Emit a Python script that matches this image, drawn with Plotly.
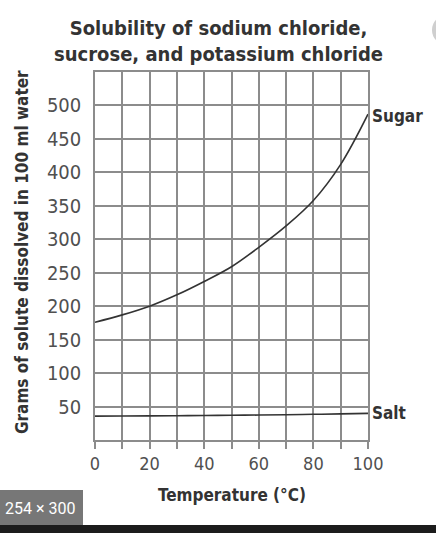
import plotly.graph_objects as go

# values
temperature = [0, 10, 20, 30, 40, 50, 60, 70, 80, 90, 100]
sugar = [176, 187, 200, 217, 237, 259, 288, 320, 358, 412, 487]
salt = [35.7, 35.8, 36.0, 36.3, 36.6, 37.0, 37.3, 37.8, 38.4, 39.0, 39.8]

x_ticks = list(range(0, 101, 10))
x_labels = [str(v) if v % 20 == 0 else "" for v in x_ticks]
y_ticks = list(range(0, 551, 50))
y_labels = [str(v) if 0 < v <= 500 else "" for v in y_ticks]

W, H = 436, 533
L, R, T, B = 95, 68, 72, 93
PW, PH = W - L - R, H - T - B

def px(x):
    return (x - L) / PW

def py(y):
    return (H - B - y) / PH

NARROW = "DejaVu Sans Condensed, Liberation Sans Narrow, sans-serif"
INK = "#333333"
GRID = "#8c8c8c"
TICK = "#505050"

fig = go.Figure()
for vals in (sugar, salt):
    fig.add_trace(go.Scatter(
        x=temperature, y=vals, mode="lines",
        line=dict(color=INK, width=1.6, shape="spline"),
        showlegend=False, hoverinfo="skip"))

fig.update_layout(
    width=W, height=H,
    margin=dict(l=L, r=R, t=T, b=B),
    paper_bgcolor="white", plot_bgcolor="white",
    xaxis=dict(
        range=[0, 100], tickvals=x_ticks, ticktext=x_labels,
        showgrid=True, gridcolor=GRID, gridwidth=1.5,
        showline=True, linecolor=GRID, linewidth=1.5, mirror=True,
        ticks="outside", ticklen=7, tickcolor=GRID, tickwidth=1.5,
        tickfont=dict(family=NARROW, size=18, color=TICK),
        zeroline=False),
    yaxis=dict(
        range=[0, 550], tickvals=y_ticks, ticktext=y_labels,
        showgrid=True, gridcolor=GRID, gridwidth=1.5,
        showline=True, linecolor=GRID, linewidth=1.5, mirror=True,
        ticks="", ticklabelstandoff=8,
        tickfont=dict(family=NARROW, size=20, color=TICK),
        zeroline=False),
)

# titles as annotations so they sit where the reference has them
fig.add_annotation(x=px(218), y=py(41), xref="paper", yref="paper",
                   text="<b>Solubility of sodium chloride,<br>sucrose, and potassium chloride</b>",
                   showarrow=False, xanchor="center", yanchor="middle",
                   font=dict(family=NARROW, size=20, color=INK))
fig.add_annotation(x=px(232), y=py(495), xref="paper", yref="paper",
                   text="<b>Temperature (°C)</b>", showarrow=False,
                   xanchor="center", yanchor="middle",
                   font=dict(family=NARROW, size=17, color=INK))
fig.add_annotation(x=px(22), y=py(252), xref="paper", yref="paper",
                   text="<b>Grams of solute dissolved in 100 ml water</b>",
                   showarrow=False, textangle=-90, xanchor="center", yanchor="middle",
                   font=dict(family=NARROW, size=17, color=INK))

fig.add_annotation(x=100, y=sugar[-1], text="<b>Sugar</b>", showarrow=False,
                   xanchor="left", yanchor="middle", xshift=2, yshift=-2,
                   font=dict(family=NARROW, size=17, color=INK))
fig.add_annotation(x=100, y=salt[-1], text="<b>Salt</b>", showarrow=False,
                   xanchor="left", yanchor="middle", xshift=2,
                   font=dict(family=NARROW, size=17, color=INK))

# screenshot chrome: size badge, dark strip, corner button
fig.add_shape(type="rect", xref="paper", yref="paper",
              x0=px(0), x1=px(W), y0=py(525), y1=py(H),
              fillcolor="#1c1c1c", line_width=0, layer="above")
fig.add_shape(type="rect", xref="paper", yref="paper",
              x0=px(0), x1=px(83), y0=py(490), y1=py(525),
              fillcolor="#777777", line_width=0, layer="above")
fig.add_annotation(x=px(40), y=py(508), xref="paper", yref="paper",
                   text="254 × 300", showarrow=False,
                   xanchor="center", yanchor="middle",
                   font=dict(family="Roboto, sans-serif", size=16, color="white"))
fig.add_shape(type="circle", xref="paper", yref="paper",
              x0=px(432), x1=px(462), y0=py(15), y1=py(45),
              fillcolor="#cfcfcf", line_width=0, layer="above")

fig.write_html("out.html", config={"displayModeBar": False},
               post_script="document.body.style.margin='0';document.body.style.overflow='hidden';")
